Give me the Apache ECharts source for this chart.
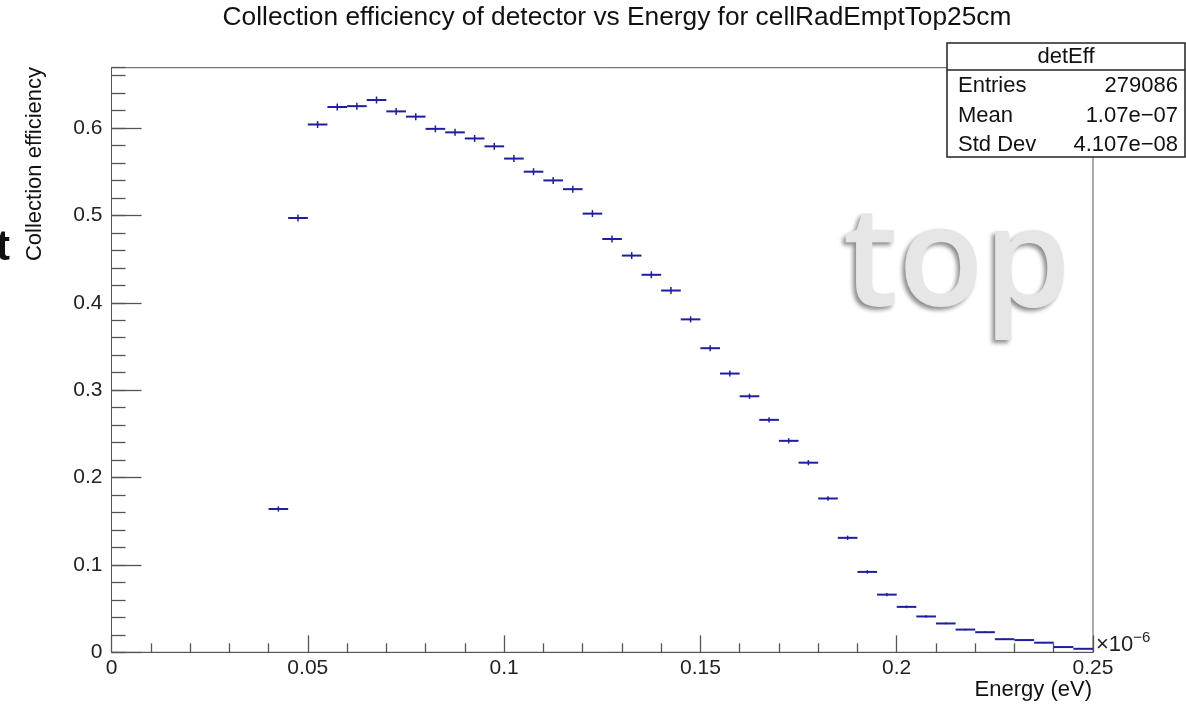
<!DOCTYPE html>
<html><head><meta charset="utf-8">
<script src="https://cdn.jsdelivr.net/npm/echarts@6/dist/echarts.min.js"></script>
<style>html,body{margin:0;padding:0;background:#fff}#c{width:1186px;height:705px}</style>
</head><body><div id="c"></div>
<script>
// Bin centres (x 1e-6 eV)
const energy = [0.0425,0.0475,0.0525,0.0575,0.0625,0.0675,0.0725,0.0775,0.0825,0.0875,
  0.0925,0.0975,0.1025,0.1075,0.1125,0.1175,0.1225,0.1275,0.1325,0.1375,
  0.1425,0.1475,0.1525,0.1575,0.1625,0.1675,0.1725,0.1775,0.1825,0.1875,
  0.1925,0.1975,0.2025,0.2075,0.2125,0.2175,0.2225,0.2275,0.2325,0.2375,
  0.2425,0.2475];
const efficiency = [0.164,0.497,0.604,0.624,0.625,0.632,0.619,0.613,0.599,0.595,
  0.588,0.579,0.565,0.550,0.540,0.530,0.502,0.473,0.454,0.432,
  0.414,0.381,0.348,0.319,0.293,0.266,0.242,0.217,0.176,0.131,
  0.092,0.066,0.052,0.041,0.033,0.026,0.023,0.015,0.014,0.011,
  0.006,0.004];
const effError = [0.003,0.004,0.004,0.004,0.004,0.004,0.004,0.004,0.004,0.004,
  0.004,0.004,0.004,0.004,0.004,0.004,0.004,0.004,0.004,0.004,
  0.004,0.0035,0.0035,0.0035,0.003,0.003,0.003,0.003,0.0025,0.0025,
  0.002,0.002,0.0015,0.0015,0.001,0.001,0.001,0.0008,0.0008,0.0006,
  0.0005,0.0004];
const binHalfWidth = 0.0025;
const statsRows = [["Entries","279086"],["Mean","1.07e\u221207"],["Std Dev","4.107e\u221208"]];

const FONT = '"Liberation Sans", Arial, Helvetica, sans-serif';
const AXC = '#555';
const MARK = '#1e1ea0';
const data = energy.map((x,i)=>[x, efficiency[i], effError[i]]);

const chart = echarts.init(document.getElementById('c'), null, {renderer:'canvas'});

const statsChildren = [
  {type:'rect', shape:{x:947,y:43,width:238,height:114}, style:{fill:'#fff', stroke:'#222', lineWidth:1.5}},
  {type:'line', shape:{x1:947,y1:70,x2:1185,y2:70}, style:{stroke:'#222', lineWidth:1.5}},
  {type:'text', x:1066, y:57, style:{text:'detEff', font:'22px '+FONT, fill:'#111', align:'center', verticalAlign:'middle'}}
];
statsRows.forEach((r,i)=>{
  const y = 86 + i*29.5;
  statsChildren.push({type:'text', x:958, y:y, style:{text:r[0], font:'22px '+FONT, fill:'#111', align:'left', verticalAlign:'middle'}});
  statsChildren.push({type:'text', x:1178, y:y, style:{text:r[1], font:'22px '+FONT, fill:'#111', align:'right', verticalAlign:'middle'}});
});

chart.setOption({
  animation:false,
  backgroundColor:'#fff',
  grid:{left:111.5, right:93, top:67.7, bottom:52.7, show:true, borderColor:AXC, borderWidth:1, backgroundColor:'transparent'},
  xAxis:[{
    type:'value', min:0, max:0.25, interval:0.05,
    axisLine:{show:true, onZero:false, lineStyle:{color:AXC, width:1}},
    axisTick:{show:true, inside:true, length:17, lineStyle:{color:AXC, width:1.3}},
    minorTick:{show:true, splitNumber:5, length:9, lineStyle:{color:AXC, width:1.3}},
    splitLine:{show:false}, minorSplitLine:{show:false},
    axisLabel:{fontSize:21, fontFamily:FONT, color:'#222', margin:5}
  }],
  yAxis:[{
    type:'value', min:0, max:0.669, interval:0.1,
    axisLine:{show:true, onZero:false, lineStyle:{color:AXC, width:1}},
    axisTick:{show:true, inside:true, length:30, lineStyle:{color:AXC, width:1.3}},
    splitLine:{show:false},
    axisLabel:{fontSize:21, fontFamily:FONT, color:'#222', margin:9, showMaxLabel:false}
  },{
    type:'value', min:0, max:0.669, interval:0.02, position:'left', offset:0,
    axisLine:{show:false},
    axisTick:{show:true, inside:true, length:14, lineStyle:{color:AXC, width:1.3}},
    splitLine:{show:false},
    axisLabel:{show:false}
  }],
  graphic:[
    {type:'text', x:843, y:266, z:1, style:{text:'top', font:'600 140px "Open Sans", sans-serif', fill:'#e6e6e6',
      align:'left', verticalAlign:'middle',
      shadowColor:'rgba(0,0,0,0.45)', shadowBlur:4, shadowOffsetX:-3, shadowOffsetY:3,
      textShadowColor:'rgba(0,0,0,0.45)', textShadowBlur:4, textShadowOffsetX:-3, textShadowOffsetY:3}},
    {type:'text', x:-4, y:248, style:{text:'t', font:'bold 42px '+FONT, fill:'#111', align:'left', verticalAlign:'middle'}},
    {type:'text', x:617, y:18, style:{text:'Collection efficiency of detector vs Energy for cellRadEmptTop25cm', font:'26.3px '+FONT, fill:'#111', align:'center', verticalAlign:'middle'}},
    {type:'text', x:35, y:67, rotation:Math.PI/2, style:{text:'Collection efficiency', font:'22px '+FONT, fill:'#111', align:'right', verticalAlign:'middle'}},
    {type:'text', x:1092, y:690, style:{text:'Energy (eV)', font:'22px '+FONT, fill:'#111', align:'right', verticalAlign:'middle'}},
    {type:'text', x:1096, y:645, style:{text:'\u00d710{s|\u22126}', font:'22px '+FONT, fill:'#222', align:'left', verticalAlign:'middle',
      rich:{s:{fontSize:15, fontFamily:FONT, fill:'#222', verticalAlign:'top', padding:[0,0,14,0]}}}},
    {type:'group', z:100, children:statsChildren}
  ],
  series:[{
    type:'custom', xAxisIndex:0, yAxisIndex:0, z:5,
    data:data, encode:{x:0, y:1},
    renderItem:function(params, api){
      const x = api.value(0), y = api.value(1), e = api.value(2);
      const pL = api.coord([x - binHalfWidth, y]);
      const pR = api.coord([x + binHalfWidth, y]);
      const pT = api.coord([x, y + e]);
      const pB = api.coord([x, y - e]);
      return {type:'group', children:[
        {type:'line', shape:{x1:pL[0], y1:pL[1], x2:pR[0], y2:pR[1]}, style:{stroke:MARK, lineWidth:2}},
        {type:'line', shape:{x1:pT[0], y1:pT[1], x2:pB[0], y2:pB[1]}, style:{stroke:MARK, lineWidth:1.5}}
      ]};
    }
  }]
});
</script></body></html>
